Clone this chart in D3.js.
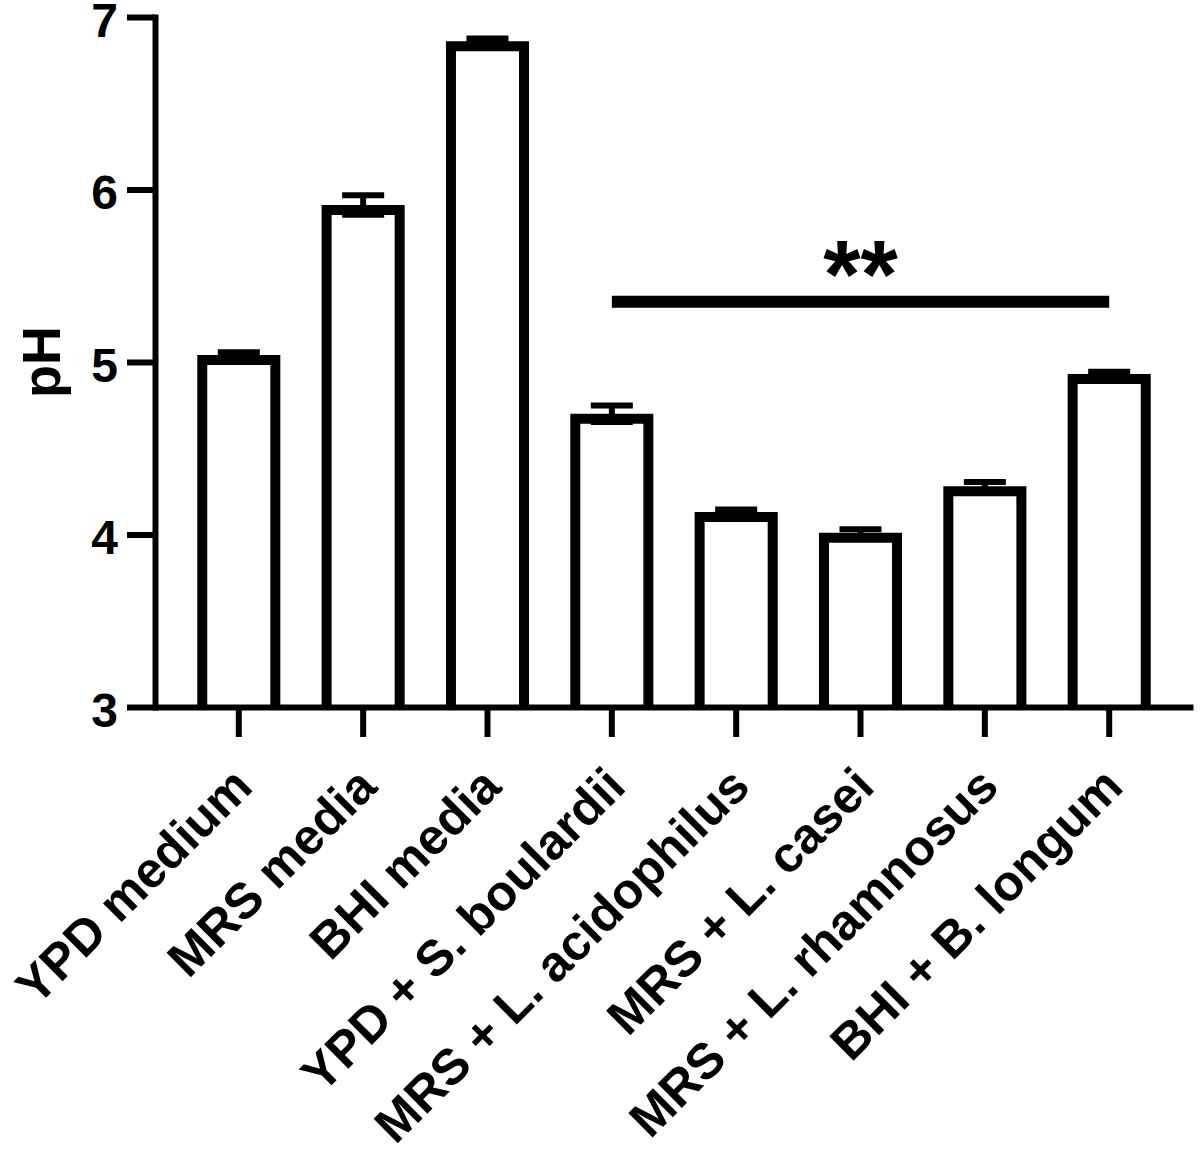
<!DOCTYPE html>
<html lang="en">
<head>
  <meta charset="utf-8">
  <script src="https://cdn.jsdelivr.net/npm/d3@7"></script>
  <style>
    body { margin: 0; background: #fff; }
    svg { display: block; font-family: "Liberation Sans", Arial, sans-serif; font-weight: bold; }
    .axis path, .axis line { stroke: #000; stroke-width: 6; }
    .axis text { fill: #000; font-size: 48px; font-family: "Liberation Sans", Arial, sans-serif; font-weight: bold; }
    .axis.x text { font-size: 50px; }
  </style>
</head>
<body>
  <svg id="chart" width="1200" height="1157"></svg>
  <script>
    // groups on the x axis
    var categories = ["YPD medium", "MRS media", "BHI media", "YPD + S. boulardii",
                      "MRS + L. acidophilus", "MRS + L. casei", "MRS + L. rhamnosus", "BHI + B. longum"];
    // mean pH and error (SEM)
    var means  = [5.04, 5.91, 6.86, 4.70, 4.13, 4.01, 4.28, 4.93];
    var errors = [0.017, 0.056, 0.016, 0.048, 0.015, 0.02, 0.025, 0.013];
    var yTicks = [3, 4, 5, 6, 7];
    // significance bracket: from group to group
    var sigFrom = "YPD + S. boulardii", sigTo = "BHI + B. longum", sigLabel = "**", sigLevel = 5.35;

    var svg = d3.select("#chart");

    var x = d3.scaleBand()
        .domain(categories)
        .range([155, 1193])
        .paddingInner(0.332)
        .paddingOuter(0.34);

    var y = d3.scaleLinear()
        .domain([3, 7])
        .range([707, 17]);

    var data = categories.map(function(c, i) { return {name: c, mean: means[i], err: errors[i]}; });
    var bw = x.bandwidth();
    var sw = 10; // bar outline

    // bars (open at the bottom, outline drawn inside)
    svg.append("g").selectAll("path")
      .data(data)
      .enter().append("path")
        .attr("fill", "#fff")
        .attr("stroke", "#000")
        .attr("stroke-width", sw)
        .attr("stroke-linejoin", "miter")
        .attr("d", function(d) {
          var x0 = x(d.name) + sw / 2, x1 = x(d.name) + bw - sw / 2;
          var yt = y(d.mean) + sw / 2, yb = y(3);
          return "M" + x0 + "," + yb + "V" + yt + "H" + x1 + "V" + yb;
        });

    // error bars
    var eg = svg.append("g").attr("stroke", "#000").attr("stroke-width", 6);
    var capW = 42;
    data.forEach(function(d) {
      var cx = x(d.name) + bw / 2;
      eg.append("line").attr("x1", cx).attr("x2", cx)
        .attr("y1", y(d.mean - d.err)).attr("y2", y(d.mean + d.err));
      [d.mean + d.err, d.mean - d.err].forEach(function(v) {
        eg.append("line").attr("x1", cx - capW / 2).attr("x2", cx + capW / 2)
          .attr("y1", y(v)).attr("y2", y(v));
      });
    });

    // axes
    var yAxis = d3.axisLeft(y)
        .tickValues(yTicks)
        .tickFormat(d3.format("d"))
        .tickSize(28)
        .tickSizeOuter(0)
        .tickPadding(9);

    var gy = svg.append("g")
        .attr("class", "axis y")
        .attr("transform", "translate(155,0)")
        .call(yAxis);
    gy.select(".domain").attr("stroke-linecap", "square");
    gy.selectAll("text").attr("dy", "0.4em");

    var xAxis = d3.axisBottom(x)
        .tickSize(30)
        .tickSizeOuter(0);

    var gx = svg.append("g")
        .attr("class", "axis x")
        .attr("transform", "translate(0,707)")
        .call(xAxis);
    gx.selectAll("text")
        .attr("x", 0).attr("y", 0).attr("dy", 0)
        .attr("text-anchor", "end")
        .attr("transform", "translate(16,82) rotate(-45)");

    // y axis title
    svg.append("text")
        .attr("transform", "translate(60,362) rotate(-90)")
        .attr("text-anchor", "middle")
        .style("font-size", "54px")
        .text("pH");

    // significance line and stars
    var sx0 = x(sigFrom) + bw / 2, sx1 = x(sigTo) + bw / 2;
    svg.append("line")
        .attr("x1", sx0).attr("x2", sx1)
        .attr("y1", y(sigLevel)).attr("y2", y(sigLevel))
        .attr("stroke", "#000")
        .attr("stroke-width", 12);

    svg.append("text")
        .attr("x", x("MRS + L. casei") + bw / 2)
        .attr("y", y(sigLevel) + 5)
        .attr("text-anchor", "middle")
        .style("font-size", "96px")
        .text(sigLabel);
  </script>
</body>
</html>
